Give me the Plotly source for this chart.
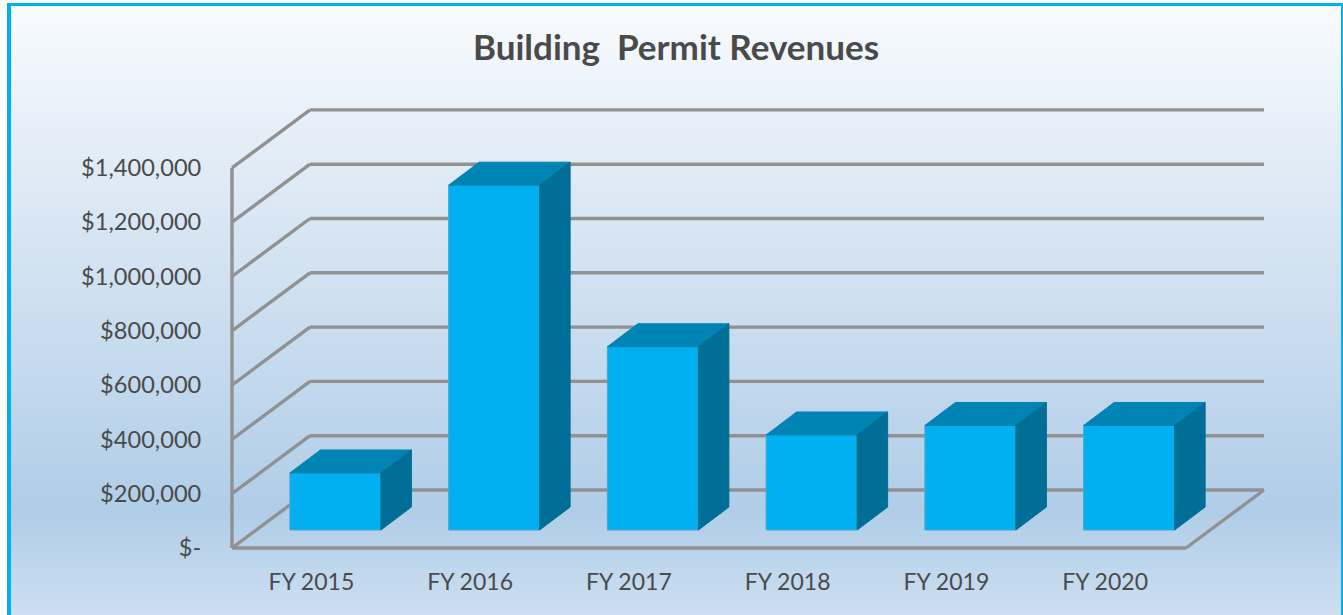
import plotly.graph_objects as go

# ---- data ----
categories = ["FY 2015", "FY 2016", "FY 2017", "FY 2018", "FY 2019", "FY 2020"]
revenues = [210000, 1270000, 675000, 350000, 385000, 385000]
tick_values = [0, 200000, 400000, 600000, 800000, 1000000, 1200000, 1400000]
tick_labels = ["$-", "$200,000", "$400,000", "$600,000", "$800,000", "$1,000,000", "$1,200,000", "$1,400,000"]
title_text = "Building  Permit Revenues"

# ---- page / projection geometry ----
W, H = 1343, 615
FLOOR_PX_Y = 548.0          # pixel row of the value 0 at the front of the floor
LEFT_PX_X = 232.0           # pixel column of the left end of the floor
PX_PER_UNIT_Y = 54.3 / 200000
PX_PER_CAT = 158.75

x_min = -0.5 - LEFT_PX_X / PX_PER_CAT
x_max = x_min + W / PX_PER_CAT
y_max = FLOOR_PX_Y / PX_PER_UNIT_Y
y_min = y_max - H / PX_PER_UNIT_Y

wall_dx, wall_dy = 78 / PX_PER_CAT, 58 / PX_PER_UNIT_Y      # depth of the chart box
bar_dx, bar_dy = 30.5 / PX_PER_CAT, 23 / PX_PER_UNIT_Y      # depth of each bar
bar_lift = 18 / PX_PER_UNIT_Y                               # front gap below the bars
bar_shift = 24 / PX_PER_CAT                                 # bars sit deeper in the box
bar_width = 91 / PX_PER_CAT
box_extra = 1.5 / PX_PER_CAT                                # box runs slightly past the last slot

FRONT, TOP, SIDE = "#00B0F0", "#0084B4", "#006E96"
EDGE = "#4FA6CC"
GRID = "#919191"
TEXT = "#4A4A4A"
BORDER = "#00B0F0"
FONT = "Lato, 'Open Sans', sans-serif"

# ---- background gradient and border ----
stops = [(6, (248, 251, 254)), (190, (221, 233, 245)), (510, (176, 205, 232)), (615, (205, 223, 241))]

def grad(py):
    for (a, ca), (b, cb) in zip(stops, stops[1:]):
        if py <= b:
            t = (py - a) / (b - a)
            return "rgb(%d,%d,%d)" % tuple(round(u + (v - u) * t) for u, v in zip(ca, cb))
    return "rgb(%d,%d,%d)" % stops[-1][1]

shapes = [dict(type="rect", xref="paper", yref="paper", layer="below", line_width=0, fillcolor=BORDER,
               x0=7 / W, x1=1, y0=0, y1=1 - 3 / H)]
for py in range(6, H, 2):
    shapes.append(dict(type="rect", xref="paper", yref="paper", layer="below", line_width=0,
                       fillcolor=grad(py), x0=11 / W, x1=1341 / W, y0=max(0, 1 - (py + 3) / H), y1=1 - py / H))

# ---- wall grid and floor, derived from the axis ticks ----
left, right = -0.5, len(categories) - 0.5 + box_extra
def seg(x0, y0, x1, y1):
    return dict(type="line", xref="x", yref="y", layer="below", x0=x0, y0=y0, x1=x1, y1=y1,
                line=dict(color=GRID, width=3.4))

for v in tick_values:
    shapes.append(seg(left, v, left + wall_dx, v + wall_dy))
    shapes.append(seg(left + wall_dx, v + wall_dy, right + wall_dx, v + wall_dy))
shapes.append(seg(left, 0, left, tick_values[-1]))
shapes.append(seg(left, 0, right, 0))
shapes.append(seg(right, 0, right + wall_dx, wall_dy))

fig = go.Figure()

# ---- bars: front faces ----
xs = [i + bar_shift for i in range(len(categories))]
fig.add_trace(go.Bar(x=xs, y=revenues, base=[bar_lift] * len(revenues), width=bar_width,
                     marker=dict(color=FRONT, line=dict(color=EDGE, width=1)),
                     customdata=categories, hoverinfo="skip", showlegend=False))

# ---- bars: top and side faces ----
for x, v in zip(xs, revenues):
    l, r = x - bar_width / 2, x + bar_width / 2
    b, t = bar_lift, bar_lift + v
    fig.add_trace(go.Scatter(x=[l, r, r + bar_dx, l + bar_dx, l], y=[t, t, t + bar_dy, t + bar_dy, t],
                             mode="lines", fill="toself", fillcolor=TOP, line=dict(color=TOP, width=1),
                             hoverinfo="skip", showlegend=False))
    fig.add_trace(go.Scatter(x=[r, r + bar_dx, r + bar_dx, r, r], y=[b, b + bar_dy, t + bar_dy, t, b],
                             mode="lines", fill="toself", fillcolor=SIDE, line=dict(color=SIDE, width=1),
                             hoverinfo="skip", showlegend=False))

fig.update_layout(
    width=W, height=H, margin=dict(l=0, r=0, t=0, b=0), autosize=False,
    paper_bgcolor="white", plot_bgcolor="rgba(0,0,0,0)", showlegend=False, shapes=shapes,
    title=dict(text="<b>" + title_text + "</b>", x=676 / W, y=1 - 48 / H, xanchor="center", yanchor="middle",
               xref="paper", yref="paper", font=dict(family=FONT, size=35, color=TEXT)),
    xaxis=dict(domain=[0, 1], range=[x_min, x_max], anchor="free", position=(H - FLOOR_PX_Y) / H,
               tickmode="array", tickvals=list(range(len(categories))), ticktext=categories,
               ticks="outside", ticklen=13, tickcolor="rgba(0,0,0,0)", showgrid=False, zeroline=False,
               showline=False, tickfont=dict(family=FONT, size=23, color=TEXT)),
    yaxis=dict(domain=[0, 1], range=[y_min, y_max], anchor="free", position=LEFT_PX_X / W,
               tickmode="array", tickvals=tick_values, ticktext=tick_labels,
               ticks="outside", ticklen=26, tickcolor="rgba(0,0,0,0)", showgrid=False, zeroline=False,
               showline=False, tickfont=dict(family=FONT, size=23.6, color=TEXT)),
)

fig.write_html("out.html", config={"displayModeBar": False},
               post_script="document.body.style.margin='0';document.body.style.overflow='hidden';")
